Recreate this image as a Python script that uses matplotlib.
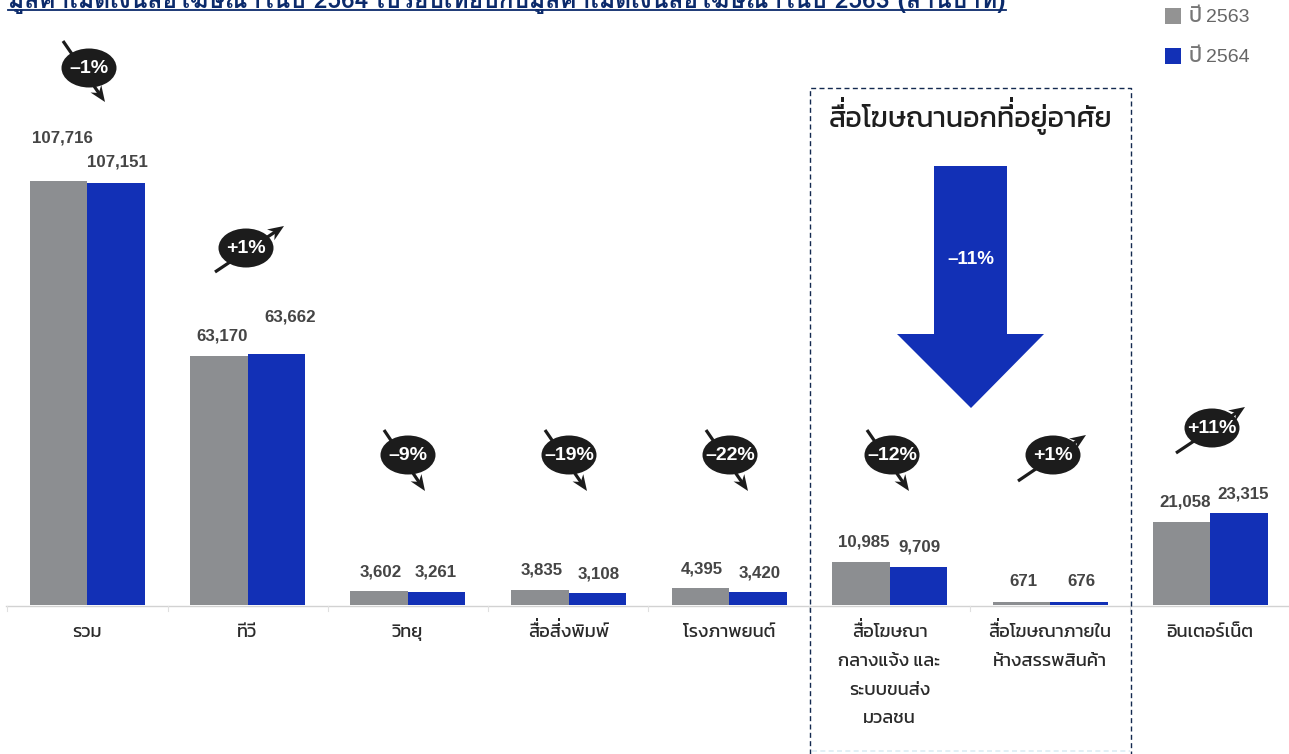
import matplotlib
matplotlib.use("Agg")
import matplotlib.pyplot as plt
import numpy as np
from matplotlib import font_manager as fm
from matplotlib.font_manager import FontProperties, get_font
from matplotlib.ft2font import LoadFlags
from matplotlib.patches import Ellipse, PathPatch, Polygon, Rectangle
from matplotlib.textpath import TextPath
from matplotlib.transforms import Affine2D

#%% data
categories = [["รวม"], ["ทีวี"], ["วิทยุ"], ["สื่อสิ่งพิมพ์"], ["โรงภาพยนต์"],
              ["สื่อโฆษณา", "กลางแจ้ง และ", "ระบบขนส่ง", "มวลชน"],
              ["สื่อโฆษณาภายใน", "ห้างสรรพสินค้า"], ["อินเตอร์เน็ต"]]
y2563 = [107716, 63170, 3602, 3835, 4395, 10985, 671, 21058]
y2564 = [107151, 63662, 3261, 3108, 3420, 9709, 676, 23315]
changes = ["-1%", "+1%", "-9%", "-19%", "-22%", "-12%", "+1%", "+11%"]
legend_names = ["ปี 2563", "ปี 2564"]
title = "มูลค่าเม็ดเงินสื่อโฆษณาในปี 2564 เปรียบเทียบกับมูลค่าเม็ดเงินสื่อโฆษณาในปี 2563 (ล้านบาท)"
box_title = "สื่อโฆษณานอกที่อยู่อาศัย"
box_change = "-11%"

#%% layout, in pixels
W, H = 1289, 754
DPI = 100
base_y = 605
px_per_unit = 424.0 / 107716
centers = [87, 247.5, 407.5, 568.5, 729, 889.5, 1050, 1210]
bar_w = 57.5
label_pos_a = [(62, 138), (222, 336), (381, 572), (542, 570), (702, 569), (864, 542), (1023, 582), (1185, 502)]
label_pos_b = [(117, 162), (290, 317), (436, 572), (599, 574), (760, 573), (919, 547), (1081, 582), (1243, 494)]
badge_xy = [(89, 68), (246, 248), (408, 455), (569, 455), (730, 455), (892, 455), (1053, 455), (1212, 428)]
arrow_ends = [((63, 41), (105, 102)), ((215, 272), (284, 226)), ((384, 430), (425, 491)),
              ((545, 430), (587, 491)), ((706, 430), (748, 491)), ((867, 430), (909, 491)),
              ((1018, 481), (1086, 435)), ((1176, 453), (1245, 407))]
line_baselines = [637, 666, 695, 723]

GREY = "#8c8e91"
BLUE = "#1230b6"
NAVY = "#0b2a6b"
INK = "#1c1c1c"
NUM = "#454545"
THAI = "Kanit"
LATIN = "Liberation Sans"

fig = plt.figure(figsize=(W / DPI, H / DPI), dpi=DPI, facecolor="white")

# bars live in value coordinates, zero on the baseline
ax = fig.add_axes([0, 0, 1, 1])
ax.set_xlim(0, W)
ax.set_ylim((base_y - H) / px_per_unit, base_y / px_per_unit)
ax.bar(np.array(centers) - bar_w / 2, y2563, bar_w, color=GREY)
ax.bar(np.array(centers) + bar_w / 2, y2564, bar_w, color=BLUE)
for s in ax.spines.values():
    s.set_visible(False)
ax.set_yticks([])
ax.set_xticks([7, 168, 328, 488, 648, 809, 970, 1130])
ax.set_xticklabels([])
ax.tick_params(axis="x", length=0)
ax.axhline(-150, color="#d2d2d2", lw=1.0, xmin=6 / W, xmax=1)
for t in ax.get_xticks():
    ax.plot([t, t], [-150, -1500], color="#e0e0e0", lw=0.8)

# everything else goes on a pixel overlay
deco = fig.add_axes([0, 0, 1, 1], facecolor="none")
deco.set_xlim(0, W)
deco.set_ylim(H, 0)
deco.axis("off")

ABOVE_VOWELS = "ิีึื"
TONES = "่้๊๋"


def thai_text(x, y, s, size, color, weight="light", ha="center"):
    # no shaping in matplotlib, so tones over an upper vowel get lifted by hand
    prop = FontProperties(family=THAI, weight=weight, size=size)
    t = deco.text(x, y, s, fontproperties=prop, color=color, ha=ha, va="baseline")
    r = fig.canvas.get_renderer()
    left = t.get_window_extent(r).x0
    font = get_font(fm.findfont(prop))
    scale = DPI / 72.0
    for i, ch in enumerate(s):
        stacked = (i > 0 and s[i - 1] in ABOVE_VOWELS) or (i + 1 < len(s) and s[i + 1] in ABOVE_VOWELS)
        if ch in TONES and stacked:
            # TextPath shares this cached font and rescales it, so set the size each time
            font.set_size(size, DPI)
            adv = sum(font.load_char(ord(c), flags=LoadFlags.NO_HINTING).linearHoriAdvance
                      for c in s[:i]) / 65536.0
            mark = TextPath((0, 0), ch, size=size, prop=prop)
            tr = Affine2D().scale(scale, -scale).translate(left + adv, y - size * scale * 0.25)
            deco.add_patch(PathPatch(mark, transform=tr + deco.transData, fc=color, ec="none"))
    return t


def trend_arrow(a, b):
    # shaft plus a notched head, tip sits exactly on b
    a, b = np.array(a, float), np.array(b, float)
    u = (b - a) / np.linalg.norm(b - a)
    n = np.array([-u[1], u[0]])
    deco.plot([a[0], (b - u * 10)[0]], [a[1], (b - u * 10)[1]], color=INK, lw=2.3, solid_capstyle="butt")
    deco.add_patch(Polygon([b, b - u * 16 + n * 6.5, b - u * 11, b - u * 16 - n * 6.5],
                           closed=True, fc=INK, ec="none"))


# outdoor group frame
deco.plot([810, 810, 1131, 1131], [754, 88, 88, 754], color="#13294f", lw=1.0, ls=(0, (3.6, 2.4)))
deco.plot([812, 1130], [751, 751], color="#dcecf4", lw=1.2, ls=(0, (3, 2)))
thai_text(970.5, 127, box_title, 20.5, "#1e1e1e", weight="normal")

# big drop arrow for the outdoor total
deco.add_patch(Polygon([(934, 166), (1007, 166), (1007, 334), (1044, 334), (971, 408), (897, 334), (934, 334)],
                       closed=True, fc=BLUE, ec="none"))
deco.text(971, 259, box_change.replace("-", "\u2013"), color="white", family=LATIN, weight="bold",
          fontsize=13.5, ha="center", va="center")

# headline, its top runs off the page
deco.text(8, 8, title, family="Loma", weight="bold", fontsize=17.7, color=NAVY, ha="left", va="baseline")
deco.plot([8, 1006], [9.5, 9.5], color=NAVY, lw=1.3)

# legend
for yy, col, name, base in zip((8, 48), ("#939393", BLUE), legend_names, (22, 62)):
    deco.add_patch(Rectangle((1165, yy), 16, 16, fc=col, ec="none"))
    thai_text(1189, base, name[:2], 15, "#777777", weight="normal", ha="left")
    deco.text(1206, base, name[3:], family=LATIN, fontsize=14, color="#666666", ha="left", va="baseline")

# category names
for cx, lines in zip(centers, categories):
    for base, line in zip(line_baselines, lines):
        thai_text(cx, base, line, 13.2, "#2a2a2a", weight="normal")

# value labels
for v, p in zip(y2563, label_pos_a):
    deco.text(p[0], p[1], f"{v:,}", family=LATIN, weight="bold", fontsize=12.2, color=NUM, ha="center", va="center")
for v, p in zip(y2564, label_pos_b):
    deco.text(p[0], p[1], f"{v:,}", family=LATIN, weight="bold", fontsize=12.2, color=NUM, ha="center", va="center")

# change badges with the trend arrow running through them
for c, xy, (a, b) in zip(changes, badge_xy, arrow_ends):
    trend_arrow(a, b)
    deco.add_patch(Ellipse(xy, 55, 39, fc=INK, ec="none", zorder=3))
    deco.text(xy[0], xy[1] + 0.5, c.replace("-", "\u2013"), color="white", family=LATIN, weight="bold",
              fontsize=14, ha="center", va="center", zorder=4)

fig.savefig("out.png", dpi=DPI)
